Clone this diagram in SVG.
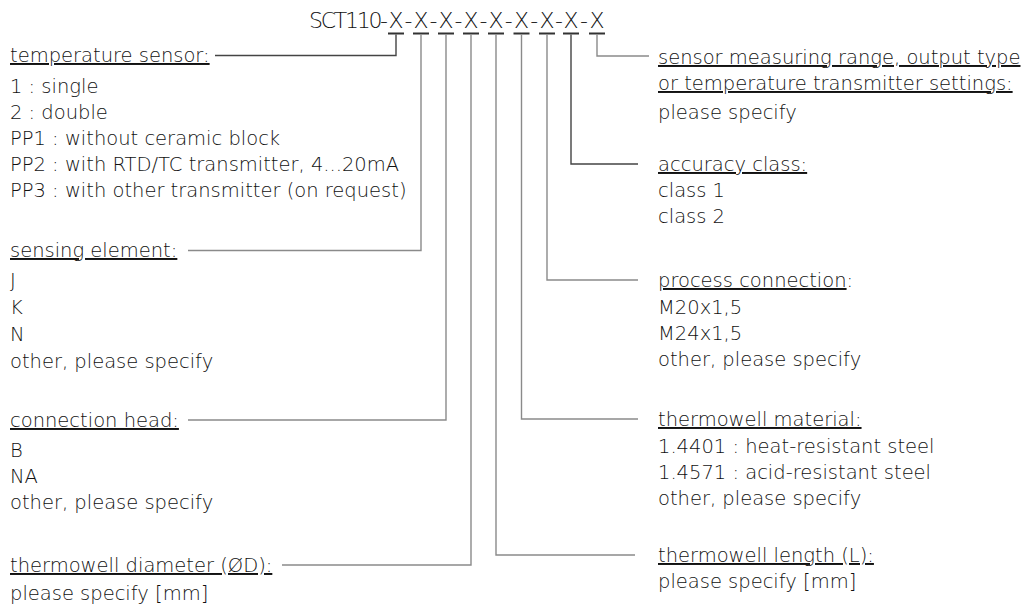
<svg xmlns="http://www.w3.org/2000/svg" width="1029" height="608" viewBox="0 0 1029 608">
<style>
text{font-family:"DejaVu Sans","Liberation Sans",sans-serif;font-weight:200;fill:#111;font-size:19.5px}
.h{text-decoration:underline}
.t{font-size:22px}
.bar{stroke:#333;stroke-width:2}
.c{fill:none;stroke:#8a8a8a;stroke-width:1.4}
.d{fill:none;stroke:#444;stroke-width:1.4}
</style>
<rect width="1029" height="608" fill="#fff"/>
<g id="title">
<text class="t" y="28" x="309 320.8 333.7 345 356.8 368.5 380 388.5 404.5 413.5 429.5 438.5 454.5 463.5 479.5 488.5 504.7 514 530.2 539.5 555 563.5 580 589.5">SCT110-X-X-X-X-X-X-X-X-X</text>
<path class="bar" d="M388 33.5h16M413 33.5h16M438 33.5h16M463 33.5h16M488 33.5h16M513.5 33.5h16M539 33.5h16M563 33.5h16M589 33.5h16"/>
</g>
<g id="connectors">
<path class="d" d="M396 34.5V55.5H215"/>
<path class="c" d="M421 34.5V250.5H188"/>
<path class="c" d="M446 34.5V420H188"/>
<path class="c" d="M471 34.5V565H282"/>
<path class="c" d="M496 34.5V555H635"/>
<path class="c" d="M521.5 34.5V419H638"/>
<path class="c" d="M547 34.5V280H638"/>
<path class="d" d="M571 34.5V164H638"/>
<path class="c" d="M597 34.5V56H649"/>
</g>
<g id="temperature-sensor">
<text class="h" x="10" y="62">temperature sensor:</text>
<text x="10" y="93">1 : single</text>
<text x="10" y="119">2 : double</text>
<text x="10" y="145">PP1 : without ceramic block</text>
<text x="10" y="171">PP2 : with RTD/TC transmitter, 4...20mA</text>
<text x="10" y="197">PP3 : with other transmitter (on request)</text>
</g>
<g id="sensing-element">
<text class="h" x="10" y="257">sensing element:</text>
<text x="10" y="287">J</text>
<text x="10" y="314">K</text>
<text x="10" y="341">N</text>
<text x="10" y="368">other, please specify</text>
</g>
<g id="connection-head">
<text class="h" x="10" y="427">connection head:</text>
<text x="10" y="457">B</text>
<text x="10" y="483">NA</text>
<text x="10" y="509">other, please specify</text>
</g>
<g id="thermowell-diameter">
<text class="h" x="10" y="572">thermowell diameter (ØD):</text>
<text x="10" y="600">please specify [mm]</text>
</g>
<g id="sensor-range">
<text class="h" x="658" y="64">sensor measuring range, output type</text>
<text class="h" x="658" y="90">or temperature transmitter settings:</text>
<text x="658" y="119">please specify</text>
</g>
<g id="accuracy-class">
<text class="h" x="658" y="171">accuracy class:</text>
<text x="658" y="197">class 1</text>
<text x="658" y="223">class 2</text>
</g>
<g id="process-connection">
<text x="658" y="287"><tspan class="h">process connection</tspan>:</text>
<text x="658" y="314">M20x1,5</text>
<text x="658" y="340">M24x1,5</text>
<text x="658" y="366">other, please specify</text>
</g>
<g id="thermowell-material">
<text class="h" x="658" y="426">thermowell material: </text>
<text x="658" y="453">1.4401 : heat-resistant steel</text>
<text x="658" y="479">1.4571 : acid-resistant steel</text>
<text x="658" y="505">other, please specify</text>
</g>
<g id="thermowell-length">
<text class="h" x="658" y="562">thermowell length (L):</text>
<text x="658" y="588">please specify [mm]</text>
</g>
</svg>
